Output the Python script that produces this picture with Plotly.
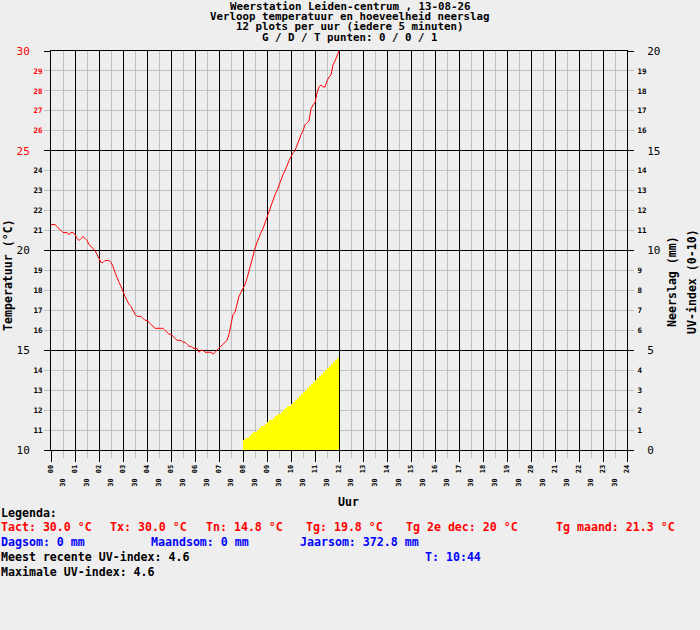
import plotly.graph_objects as go

# ---------------- data ----------------
temp_c = [
    21.3, 21.3, 21.3, 21.2, 21.1, 21.0, 20.9, 20.9, 20.9, 20.8, 20.9, 20.9,
    20.8, 20.6, 20.5, 20.6, 20.7, 20.6, 20.5, 20.3, 20.2, 20.1, 20.0, 19.8,
    19.6, 19.4, 19.4, 19.5, 19.5, 19.5, 19.4, 19.2, 18.9, 18.6, 18.4, 18.2,
    17.9, 17.7, 17.5, 17.3, 17.2, 17.0, 16.8, 16.7, 16.7, 16.7, 16.6, 16.5,
    16.5, 16.4, 16.3, 16.2, 16.1, 16.1, 16.1, 16.1, 16.1, 16.0, 15.9, 15.8,
    15.8, 15.7, 15.6, 15.5, 15.5, 15.5, 15.4, 15.4, 15.3, 15.2, 15.2, 15.1,
    15.1, 15.1, 14.9, 15.0, 15.0, 14.9, 14.9, 14.9, 14.9, 14.8, 14.9, 15.0,
    15.1, 15.2, 15.3, 15.4, 15.5, 15.8, 16.3, 16.8, 16.9, 17.3, 17.7, 17.9,
    18.1, 18.3, 18.6, 19.0, 19.3, 19.7, 20.1, 20.4, 20.7, 20.9, 21.1, 21.4,
    21.6, 21.9, 22.2, 22.5, 22.8, 23.0, 23.3, 23.6, 23.8, 24.0, 24.3, 24.5,
    24.7, 24.9, 25.0, 25.3, 25.5, 25.8, 26.0, 26.3, 26.4, 26.5, 27.1, 27.3,
    27.4, 27.9, 28.2, 28.3, 28.2, 28.2, 28.5, 28.7, 28.8, 29.3, 29.5, 29.8,
    30.0,
]
uv_start_hour = 8.0
uv_index = [
    0.5, 0.6, 0.6, 0.7, 0.8, 0.9, 0.9, 1.0, 1.1, 1.2, 1.2, 1.3,
    1.4, 1.5, 1.5, 1.6, 1.7, 1.8, 1.8, 1.9, 2.0, 2.1, 2.2, 2.2,
    2.3, 2.4, 2.5, 2.6, 2.7, 2.8, 2.9, 3.0, 3.1, 3.2, 3.3, 3.4,
    3.5, 3.6, 3.7, 3.8, 3.9, 4.0, 4.1, 4.2, 4.3, 4.4, 4.5, 4.6,
    4.6,
]
step_hours = 5 / 60  # 12 plots per uur

hour_ticks = list(range(0, 25))
hour_labels = ["%02d" % h for h in hour_ticks]
half_ticks = [h + 0.5 for h in range(24)]
half_labels = ["30"] * 24

temp_major = [10, 15, 20, 25, 30]
temp_minor = [v for v in range(10, 31) if v % 5]
rain_major = [0, 5, 10, 15, 20]
rain_minor = [v for v in range(0, 21) if v % 5]

title_lines = [
    "Weerstation Leiden-centrum , 13-08-26",
    "Verloop temperatuur en hoeveelheid neerslag",
    "12 plots per uur (iedere 5 minuten)",
    "G / D / T punten: 0 / 0 / 1",
]
legend_items = [
    # (text, color, x_px, y_px)
    ("Legenda:", "black", 0, 512.5),
    ("Tact: 30.0 °C", "red", 0, 527),
    ("Tx: 30.0 °C", "red", 109, 527),
    ("Tn: 14.8 °C", "red", 204.5, 527),
    ("Tg: 19.8 °C", "red", 305, 527),
    ("Tg 2e dec: 20 °C", "red", 405, 527),
    ("Tg maand: 21.3 °C", "red", 555, 527),
    ("Dagsom: 0 mm", "blue", 0, 542),
    ("Maandsom: 0 mm", "blue", 149.5, 542),
    ("Jaarsom: 372.8 mm", "blue", 299, 542),
    ("Meest recente UV-index: 4.6", "black", 0, 557),
    ("T: 10:44", "blue", 424, 557),
    ("Maximale UV-index: 4.6", "black", 0, 572),
]

# ---------------- layout helpers ----------------
W, H = 700, 630
L, R, T, B = 51, 627, 51, 450
MONO = "DejaVu Sans Mono"
BG = "#EEEEEE"
GRID = "#C0C0C0"


def px(x):
    return (x - L) / (R - L)


def py(y):
    return (B - y) / (B - T)


temp_hours = [i * step_hours for i in range(len(temp_c))]
uv_hours = [uv_start_hour + i * step_hours for i in range(len(uv_index))]

fig = go.Figure()
fig.add_trace(go.Scatter(
    x=uv_hours, y=uv_index, xaxis="x2", yaxis="y2",
    mode="lines", line=dict(shape="hv", width=0, color="#FFFF00"),
    fill="tozeroy", fillcolor="#FFFF00", hoverinfo="skip", showlegend=False,
))
fig.add_trace(go.Scatter(
    x=temp_hours, y=temp_c, xaxis="x", yaxis="y",
    mode="lines", line=dict(color="#FF0000", width=1),
    showlegend=False,
))
# empty carriers so the secondary label axes are drawn
fig.add_trace(go.Scatter(x=[], y=[], xaxis="x", yaxis="y3", showlegend=False,
                         hoverinfo="skip"))
fig.add_trace(go.Scatter(x=[], y=[], xaxis="x", yaxis="y4", showlegend=False,
                         hoverinfo="skip"))

small_bold = dict(family=MONO, size=7.5, color="black", weight="bold")
big_reg = dict(family=MONO, size=11, color="black")


def colored(v, red_from):
    s = str(v)
    return '<span style="color:#FF0000">%s</span>' % s if v > red_from else s


fig.update_layout(
    width=W, height=H,
    margin=dict(l=L, r=W - R, t=T, b=H - B, pad=0),
    paper_bgcolor=BG, plot_bgcolor=BG,
    showlegend=False,
    xaxis=dict(
        range=[0, 24], tickvals=hour_ticks, ticktext=hour_labels,
        tickangle=-90, ticks="outside", ticklen=11, tickcolor="black", tickwidth=1,
        showgrid=True, gridcolor="black", gridwidth=1, zeroline=False,
        showline=True, linecolor="black", linewidth=1, mirror=True,
        tickfont=dict(family=MONO, size=7, color="black", weight="bold"),
        minor=dict(tickvals=half_ticks, ticks="outside", ticklen=7,
                   tickcolor=GRID, showgrid=True, gridcolor=GRID, gridwidth=1),
        fixedrange=True,
    ),
    xaxis2=dict(
        range=[0, 24], overlaying="x", anchor="y", side="bottom",
        tickvals=half_ticks, ticktext=half_labels, tickangle=-90,
        ticks="", showgrid=False, zeroline=False, showline=False,
        tickfont=dict(family=MONO, size=7, color="black", weight="bold"),
        ticklabelstandoff=26,
    ),
    yaxis=dict(
        range=[10, 30], tickvals=temp_major,
        ticktext=[colored(v, 24) for v in temp_major],
        ticks="outside", ticklen=6, tickcolor="black",
        showgrid=True, gridcolor="black", gridwidth=1, zeroline=False,
        showline=True, linecolor="black", linewidth=1, mirror=True,
        tickfont=big_reg, ticklabelstandoff=12,
        minor=dict(tickvals=temp_minor, showgrid=True, gridcolor=GRID,
                   gridwidth=1, ticks=""),
    ),
    yaxis3=dict(
        range=[10, 30], overlaying="y", anchor="x", side="left",
        tickvals=temp_minor, ticktext=[colored(v, 25) for v in temp_minor],
        ticks="outside", ticklen=6, tickcolor=GRID,
        showgrid=False, zeroline=False, showline=False,
        tickfont=small_bold, ticklabelstandoff=0,
    ),
    yaxis2=dict(
        range=[0, 20], overlaying="y", anchor="x", side="right",
        tickvals=rain_major, ticktext=[str(v) for v in rain_major],
        ticks="outside", ticklen=6, tickcolor="black",
        showgrid=False, zeroline=False, showline=False,
        tickfont=big_reg, ticklabelstandoff=11,
    ),
    yaxis4=dict(
        range=[0, 20], overlaying="y", anchor="x", side="right",
        tickvals=rain_minor, ticktext=[str(v) for v in rain_minor],
        ticks="outside", ticklen=6, tickcolor=GRID,
        showgrid=False, zeroline=False, showline=False,
        tickfont=small_bold, ticklabelstandoff=2,
    ),
)

annotations = []
title_y = [6.2, 16.5, 26.8, 37.1]
for text, yy in zip(title_lines, title_y):
    annotations.append(dict(
        text=text, x=px(350), y=py(yy), xref="paper", yref="paper",
        xanchor="center", yanchor="middle", showarrow=False, borderpad=0,
        font=dict(family=MONO, size=10.8, color="black", weight="bold"),
    ))
for text, color, xx, yy in legend_items:
    annotations.append(dict(
        text=text, x=px(xx), y=py(yy), xref="paper", yref="paper",
        xanchor="left", yanchor="middle", showarrow=False, borderpad=0,
        font=dict(family=MONO, size=11.6, color=color, weight="bold"),
    ))
axis_titles = [
    ("Uur", 348, 502, 0),
    ("Temperatuur (°C)", 8, 275, -90),
    ("Neerslag (mm)", 672, 282, -90),
    ("UV-index (0-10)", 692, 282, -90),
]
for text, xx, yy, ang in axis_titles:
    annotations.append(dict(
        text=text, x=px(xx), y=py(yy), xref="paper", yref="paper",
        xanchor="center", yanchor="middle", showarrow=False, textangle=ang,
        borderpad=0,
        font=dict(family=MONO, size=11.6, color="black", weight="bold"),
    ))
fig.update_layout(annotations=annotations)

fig.write_html(
    "out.html",
    config={"displayModeBar": False, "staticPlot": True},
    post_script="document.body.style.margin='0px';document.body.style.padding='0px';",
)
